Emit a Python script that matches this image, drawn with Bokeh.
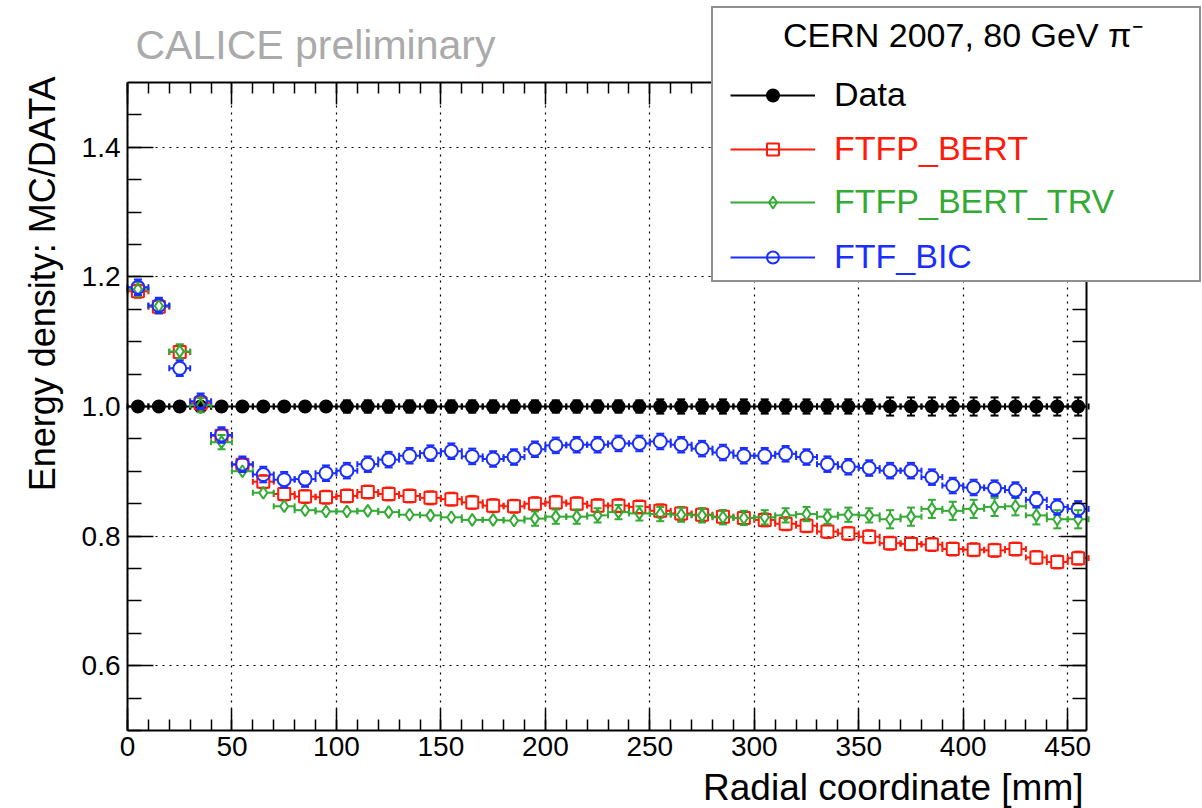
import numpy as np
from bokeh.plotting import figure
from bokeh.models import (Label, Legend, LegendItem, LinearAxis, Grid, Range1d,
                          SingleIntervalTicker, NumeralTickFormatter, CustomJSTickFormatter)
from bokeh.embed import file_html
from bokeh.resources import INLINE

# ---------------------------------------------------------------- data
radius_mm = [5, 15, 25, 35, 45, 55, 65, 75, 85, 95, 105, 115, 125, 135, 145, 155,
             165, 175, 185, 195, 205, 215, 225, 235, 245, 255, 265, 275, 285, 295,
             305, 315, 325, 335, 345, 355, 365, 375, 385, 395, 405, 415, 425, 435,
             445, 455]

data_ratio = [1.0] * 46
data_err = [0.006, 0.006, 0.006, 0.006, 0.006, 0.006, 0.006, 0.006, 0.006, 0.006,
            0.0095, 0.0095, 0.0095, 0.0095, 0.0095, 0.0095, 0.0095, 0.0095, 0.0095, 0.0095,
            0.0095, 0.0095, 0.0095, 0.0095, 0.0095, 0.011, 0.011, 0.011, 0.011, 0.011,
            0.011, 0.011, 0.011, 0.011, 0.011, 0.011, 0.014, 0.014, 0.014, 0.014,
            0.014, 0.014, 0.014, 0.014, 0.014, 0.014]

ftfp_bert = [1.178, 1.154, 1.084, 1.005, 0.955, 0.910, 0.884, 0.865, 0.861, 0.860,
             0.862, 0.868, 0.865, 0.862, 0.859, 0.857, 0.852, 0.847, 0.846, 0.850,
             0.852, 0.850, 0.847, 0.847, 0.845, 0.839, 0.835, 0.833, 0.830, 0.828,
             0.825, 0.819, 0.816, 0.807, 0.804, 0.799, 0.789, 0.788, 0.787, 0.780,
             0.779, 0.778, 0.780, 0.767, 0.760, 0.766]
ftfp_bert_err = [0.010] * 46

ftfp_bert_trv = [1.181, 1.155, 1.085, 1.002, 0.945, 0.900, 0.867, 0.846, 0.840, 0.838,
                 0.838, 0.839, 0.837, 0.833, 0.832, 0.829, 0.825, 0.825, 0.824, 0.827,
                 0.830, 0.830, 0.832, 0.837, 0.835, 0.834, 0.833, 0.832, 0.829, 0.828,
                 0.829, 0.832, 0.834, 0.830, 0.833, 0.832, 0.826, 0.830, 0.842, 0.839,
                 0.842, 0.845, 0.846, 0.832, 0.826, 0.826]
ftfp_bert_trv_err = [0.011, 0.011, 0.011, 0.011, 0.011, 0.008, 0.008, 0.008, 0.008, 0.008,
                     0.008, 0.008, 0.008, 0.008, 0.008, 0.008, 0.008, 0.008, 0.008, 0.011,
                     0.011, 0.011, 0.011, 0.011, 0.011, 0.011, 0.011, 0.011, 0.011, 0.011,
                     0.011, 0.011, 0.011, 0.011, 0.011, 0.011, 0.014, 0.014, 0.014, 0.014,
                     0.014, 0.014, 0.014, 0.014, 0.014, 0.014]

ftf_bic = [1.184, 1.156, 1.059, 1.008, 0.956, 0.911, 0.895, 0.887, 0.888, 0.897,
           0.901, 0.911, 0.918, 0.924, 0.928, 0.931, 0.923, 0.919, 0.922, 0.934,
           0.940, 0.941, 0.941, 0.943, 0.943, 0.946, 0.941, 0.935, 0.929, 0.924,
           0.924, 0.927, 0.922, 0.911, 0.907, 0.905, 0.901, 0.901, 0.891, 0.878,
           0.875, 0.874, 0.871, 0.856, 0.845, 0.842]
ftf_bic_err = [0.012] * 46

BIN_HALF_WIDTH = 5.0

x_grid_ticks = [50, 100, 150, 200, 250, 300, 350, 400, 450]
y_grid_ticks = [0.6, 0.8, 1.0, 1.2, 1.4]

legend_title = "CERN 2007, 80 GeV π⁻"
series_names = ["Data", "FTFP_BERT", "FTFP_BERT_TRV", "FTF_BIC"]

# ---------------------------------------------------------------- geometry
FONT = "Liberation Sans"
RED = "#ff1a0a"
GREEN = "#33aa33"
BLUE = "#1a2eff"

W, H = 1202, 808
BOX_L, BOX_R, BOX_T, BOX_B = 127, 1086, 82, 730     # axes box on the canvas, px
X0, X1 = 0.0, 459.0
Y0, Y1 = 0.5, 1.5
PX_PER_X = (BOX_R - BOX_L) / (X1 - X0)
PX_PER_Y = (BOX_B - BOX_T) / (Y1 - Y0)

# the frame covers the whole canvas; the axes sit on the box edges
x_range = Range1d(X0 - BOX_L / PX_PER_X, X1 + (W - BOX_R) / PX_PER_X)
y_range = Range1d(Y0 - (H - BOX_B) / PX_PER_Y, Y1 + BOX_T / PX_PER_Y)

p = figure(width=W, height=H, x_range=x_range, y_range=y_range,
           x_axis_type=None, y_axis_type=None,
           output_backend="svg", toolbar_location=None, min_border=0)
p.background_fill_color = "white"
p.border_fill_color = "white"
p.outline_line_color = None

x_ticker = SingleIntervalTicker(interval=50, num_minor_ticks=5)
y_ticker = SingleIntervalTicker(interval=0.2, num_minor_ticks=4)
blank = CustomJSTickFormatter(code="return ''")


def style_axis(ax, major_len, minor_len, labels):
    ax.axis_line_color = "black"
    ax.axis_line_width = 2
    ax.major_tick_line_width = 1.5
    ax.minor_tick_line_width = 1.5
    ax.major_tick_in = major_len
    ax.major_tick_out = 0
    ax.minor_tick_in = minor_len
    ax.minor_tick_out = 0
    ax.major_label_text_font = FONT
    ax.major_label_text_font_size = "28px"
    ax.major_label_text_color = "black"
    if not labels:
        ax.formatter = blank
        ax.major_label_standoff = 0


xb = LinearAxis(ticker=x_ticker, fixed_location=Y0, bounds=(X0, X1))
style_axis(xb, 22, 11, True)
xb.major_label_standoff = 6
xt = LinearAxis(ticker=x_ticker, fixed_location=Y1, bounds=(X0, X1))
style_axis(xt, 22, 11, False)
yl = LinearAxis(ticker=y_ticker, fixed_location=X0, bounds=(Y0, Y1),
                formatter=NumeralTickFormatter(format="0.0"))
style_axis(yl, 26, 14, True)
yl.major_label_standoff = 7
yr = LinearAxis(ticker=y_ticker, fixed_location=X1, bounds=(Y0, Y1))
style_axis(yr, 26, 14, False)
p.add_layout(xb, "below")
p.add_layout(xt, "above")
p.add_layout(yl, "left")
p.add_layout(yr, "right")

# dotted grid inside the axes box
GRID_STYLE = dict(line_color="black", line_width=1.2, line_dash="2 5")
if "cross_bounds" in Grid.properties():
    for dim, tk, b, cb in ((0, x_ticker, (X0, X1), (Y0, Y1)),
                           (1, y_ticker, (Y0, Y1), (X0, X1))):
        g = Grid(dimension=dim, ticker=tk, bounds=b, cross_bounds=cb)
        g.grid_line_color = GRID_STYLE["line_color"]
        g.grid_line_width = GRID_STYLE["line_width"]
        g.grid_line_dash = GRID_STYLE["line_dash"]
        p.add_layout(g)
else:
    p.segment(x0=x_grid_ticks, y0=[Y0] * len(x_grid_ticks),
              x1=x_grid_ticks, y1=[Y1] * len(x_grid_ticks), **GRID_STYLE)
    p.segment(x0=[X0] * len(y_grid_ticks), y0=y_grid_ticks,
              x1=[X1] * len(y_grid_ticks), y1=y_grid_ticks, **GRID_STYLE)


def draw_series(xs, ys, errs, color, marker, size, fill, half_w_px, half_h_px):
    xs = np.asarray(xs, float)
    ys = np.asarray(ys, float)
    errs = np.asarray(errs, float)
    gx = half_w_px / PX_PER_X
    gy = half_h_px / PX_PER_Y
    # horizontal bars: the bin width, leaving the marker itself open
    hbar = p.segment(x0=np.r_[xs - BIN_HALF_WIDTH, xs + gx], y0=np.r_[ys, ys],
                     x1=np.r_[xs - gx, np.minimum(xs + BIN_HALF_WIDTH, X1)],
                     y1=np.r_[ys, ys], line_color=color, line_width=2)
    p.scatter(x=np.r_[xs - BIN_HALF_WIDTH, xs + BIN_HALF_WIDTH], y=np.r_[ys, ys],
              marker="dash", angle=np.pi / 2, size=6, line_color=color, line_width=2)
    # vertical bars only where they reach beyond the marker
    show = errs > gy
    xv, yv, ev = xs[show], ys[show], errs[show]
    if len(xv):
        p.segment(x0=np.r_[xv, xv], y0=np.r_[yv + gy, yv - gy],
                  x1=np.r_[xv, xv], y1=np.r_[yv + ev, yv - ev],
                  line_color=color, line_width=2)
        p.scatter(x=np.r_[xv, xv], y=np.r_[yv + ev, yv - ev], marker="dash",
                  size=8, line_color=color, line_width=2)
    mk = p.scatter(x=xs, y=ys, marker=marker, size=size, line_color=color,
                   fill_color=fill, line_width=2)
    return [hbar, mk]


legend_renderers = [
    draw_series(radius_mm, data_ratio, data_err, "black", "circle", 12, "black", 6, 6),
    draw_series(radius_mm, ftfp_bert, ftfp_bert_err, RED, "square", 12, None, 6, 6),
    draw_series(radius_mm, ftfp_bert_trv, ftfp_bert_trv_err, GREEN, "diamond", 12, None, 4, 6),
    draw_series(radius_mm, ftf_bic, ftf_bic_err, BLUE, "circle", 13, None, 6.5, 6.5),
]
series_colors = ["black", RED, GREEN, BLUE]

# ---------------------------------------------------------------- legend
LEG_L, LEG_T, LEG_W, LEG_H = 711, 8, 488, 274
box_proxy = p.scatter(x=[], y=[], marker="circle", size=1, alpha=0)
box = Legend(items=[LegendItem(label=" ", renderers=[box_proxy])],
             location=(LEG_L, H - (LEG_T + LEG_H)), padding=0, margin=0, spacing=0,
             glyph_width=LEG_W - 2, glyph_height=LEG_H - 2, label_width=0, label_height=0,
             label_standoff=0, label_text_font_size="1px", label_text_alpha=0,
             border_line_color="#222222", border_line_width=2,
             background_fill_color="white", background_fill_alpha=1.0)
p.add_layout(box)

ROW_H = 38


def legend_row(label, renderers, left, center_y, color, glyph_width, standoff):
    """One legend line; center_y is its text centre in px from the canvas top."""
    top = center_y - ROW_H / 2
    leg = Legend(items=[LegendItem(label=label, renderers=renderers)],
                 location=(left, H - (top + ROW_H)), padding=0, margin=0, spacing=0,
                 glyph_width=glyph_width, glyph_height=30, label_standoff=standoff,
                 label_text_font=FONT, label_text_font_size="34px",
                 label_text_color=color, border_line_color=None,
                 background_fill_alpha=0)
    p.add_layout(leg)


# title line of the legend (no glyph)
legend_row(legend_title, [box_proxy], 783, 38, "black", 0, 0)

row_centers = [95, 149, 202, 257]   # px from the top of the canvas
for name, color, rends, yc in zip(series_names, series_colors, legend_renderers, row_centers):
    legend_row(name, rends, 730, yc, color, 85, 19)


def text_label(text, px, py, size, color="black", align="left", angle=0.0):
    """Text anchored at canvas pixel (px, py), measured from the top-left."""
    p.add_layout(Label(x=px, y=H - py, x_units="screen", y_units="screen",
                       text=text, text_align=align, text_baseline="middle",
                       angle=angle, text_font=FONT, text_font_size=size,
                       text_color=color, level="overlay"))


text_label("Radial coordinate [mm]", 1083, 787, "37px", align="right")
text_label("Energy density: MC/DATA", 42, 76, "36px", align="right", angle=np.pi / 2)
text_label("CALICE preliminary", 135, 44, "41px", color="#aaaaaa")

open("out.html", "w").write(file_html(p, INLINE))
